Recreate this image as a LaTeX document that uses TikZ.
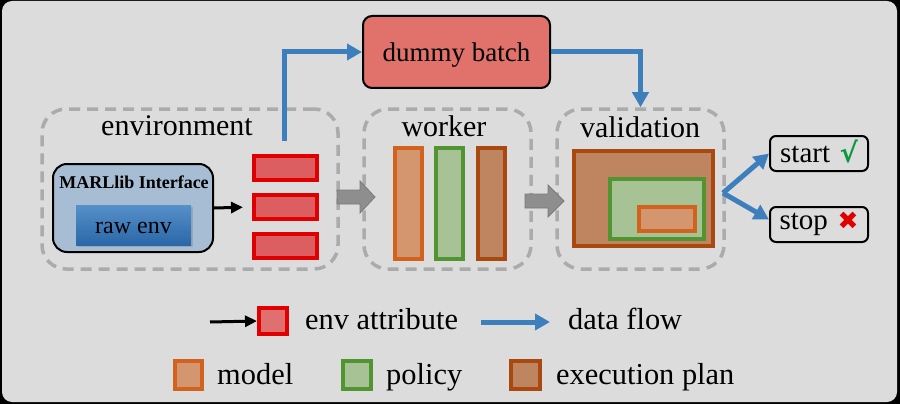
\documentclass[tikz,border=0pt]{standalone}
\usepackage{fontspec}
\setmainfont{Liberation Serif}
\newfontfamily\symfont{DejaVu Sans}
\usetikzlibrary{arrows.meta,shadows}
\definecolor{bggray}{HTML}{DCDCDC}
\definecolor{dashgray}{HTML}{ABABAB}
\definecolor{flowblue}{HTML}{3D7EBC}
\definecolor{dummyfill}{HTML}{E0716B}
\definecolor{marlfill}{HTML}{A6BDD4}
\definecolor{rawtop}{HTML}{5690CA}
\definecolor{rawbot}{HTML}{2B67A7}
\definecolor{redfill}{HTML}{DC5E60}
\definecolor{reddraw}{HTML}{E00000}
\definecolor{legredfill}{HTML}{E07070}
\definecolor{modelfill}{HTML}{D4966F}
\definecolor{modeldraw}{HTML}{D2631E}
\definecolor{policyfill}{HTML}{A7C396}
\definecolor{policydraw}{HTML}{529431}
\definecolor{execfill}{HTML}{BF8460}
\definecolor{execdraw}{HTML}{A9480F}
\definecolor{blockgray}{HTML}{8E8E8E}
\definecolor{blockdraw}{HTML}{7A7A7A}
\definecolor{checkgreen}{HTML}{0C9A3C}
\tikzset{
  dashbox/.style={rectangle, draw=dashgray, line width=3.5, dash pattern=on 11pt off 7pt, rounded corners=24, inner sep=0},
  title/.style={font=\fontsize{30}{36}\selectfont, anchor=base, inner sep=0},
  legtext/.style={font=\fontsize{30.4}{36}\selectfont, anchor=base west, inner sep=0},
  flow/.style={draw=flowblue, line width=5, -{Triangle[length=15pt,width=16pt]}},
  attr/.style={draw=black, line width=3, -{Triangle[length=12pt,width=11pt]}},
  sq/.style={rectangle, inner sep=0, line width=3.5},
  modelbox/.style={sq, fill=modelfill, draw=modeldraw},
  policybox/.style={sq, fill=policyfill, draw=policydraw},
  execbox/.style={sq, fill=execfill, draw=execdraw},
  attrbox/.style={sq, line width=4, fill=redfill, draw=reddraw, minimum width=63, minimum height=24},
  endbox/.style={rectangle, draw=black, line width=2, rounded corners=6, inner sep=0, minimum width=98, minimum height=35, font=\fontsize{29}{34}\selectfont, text depth=0pt},
  blockarrow/.style={fill=blockgray, draw=blockdraw, line width=0.8},
}
\begin{document}
\begin{tikzpicture}[x=1pt,y=-1pt]
\useasboundingbox (0,0) rectangle (900,404);
\fill[black] (0,0) rectangle (900,404);
\fill[bggray, rounded corners=10] (2,1) rectangle (897,402);

% dashed containers
\node[dashbox, minimum width=296, minimum height=160] (envbox) at (190,189) {};
\node[dashbox, minimum width=167, minimum height=160] (workbox) at (447.5,189) {};
\node[dashbox, minimum width=167, minimum height=160] (valbox) at (640.5,189) {};
\node[title] (envtitle) at (177,135) {environment};
\node[title] (worktitle) at (444,136) {worker};
\node[title] (valtitle) at (640,137) {validation};

% dummy batch
\node[rectangle, draw=black, line width=2, fill=dummyfill, rounded corners=9, inner sep=0,
      minimum width=187, minimum height=72, font=\fontsize{27}{32}\selectfont,
      text height=20pt, text depth=0pt] (dummy) at (456.5,52) {dummy batch};

% MARLlib interface
\node[rectangle, draw=black, line width=2, fill=marlfill, rounded corners=14, inner sep=0,
      minimum width=160, minimum height=88] (marl) at (133,208) {};
\node[anchor=base, inner sep=0, font=\bfseries\fontsize{18}{22}\selectfont] (marltitle) at (134,188) {MARLlib Interface};
\node[rectangle, inner sep=0, minimum width=115, minimum height=40, top color=rawtop, bottom color=rawbot,
      drop shadow={opacity=0.35, shadow xshift=1.5pt, shadow yshift=-1.5pt},
      font=\fontsize{24}{28}\selectfont, text height=16pt, text depth=0pt] (raw) at (133.5,225) {raw env};

% env attributes
\node[attrbox] (red1) at (285.5,168) {};
\node[attrbox] (red2) at (285.5,207) {};
\node[attrbox] (red3) at (285.5,246) {};
\draw[attr, shorten >=9pt] (marl.east) -- (red2.west);

% worker bars
\node[modelbox, minimum width=27, minimum height=111] (wmodel) at (408.5,203.5) {};
\node[policybox, minimum width=27, minimum height=111] (wpolicy) at (449.5,203.5) {};
\node[execbox, minimum width=27, minimum height=111] (wexec) at (491.5,203.5) {};

% validation nested
\node[execbox, minimum width=139, minimum height=95] (vexec) at (643.5,198.5) {};
\node[policybox, minimum width=94, minimum height=60] (vpolicy) at (657,209) {};
\node[modelbox, minimum width=56, minimum height=24] (vmodel) at (667,219) {};

% block arrows
\draw[blockarrow] (337,190) -- (360,190) -- (360,181) -- (375,197) -- (360,213) -- (360,204) -- (337,204) -- cycle;
\draw[blockarrow] (525,194) -- (548,194) -- (548,185) -- (564,201) -- (548,217) -- (548,208) -- (525,208) -- cycle;

% start / stop
\node[endbox, text height=17pt] (start) at (819,153.5) {start\,\,{\symfont\fontsize{27}{30}\selectfont\color{checkgreen}\bfseries √}};
\node[endbox, text height=9pt] (stop) at (819,224.5) {stop\,\,{\symfont\fontsize{25}{28}\selectfont\color{reddraw}✖}};

% data flow arrows
\coordinate (envout) at (284,141);
\draw[flow] (envout) |- (dummy.west);
\draw[flow] (dummy.east) -| (valbox.north);
\coordinate (fork) at (723,193);
\draw[flow] (fork) -- (start.west);
\draw[flow] (fork) -- ([yshift=5pt]stop.west);

% legend
\node[sq, line width=4, fill=legredfill, draw=reddraw, minimum width=28, minimum height=26] (legred) at (273,321) {};
\coordinate (legattrstart) at (210,322);
\draw[attr] (legattrstart) -- (legred.west);
\node[legtext] (legattr) at (305,329) {env attribute};
\coordinate (legflowa) at (481,322);
\coordinate (legflowb) at (550,322);
\draw[flow] (legflowa) -- (legflowb);
\node[legtext] (legflow) at (568,329) {data flow};

\node[modelbox, minimum width=27, minimum height=28] (legmodel) at (188.5,375) {};
\node[legtext] (legmodeltxt) at (217,384) {model};
\node[policybox, minimum width=28, minimum height=28] (legpolicy) at (357,375) {};
\node[legtext] (legpolicytxt) at (386,384) {policy};
\node[execbox, minimum width=29, minimum height=28] (legexec) at (525.5,375) {};
\node[legtext] (legexectxt) at (556,384) {execution plan};
\end{tikzpicture}
\end{document}
